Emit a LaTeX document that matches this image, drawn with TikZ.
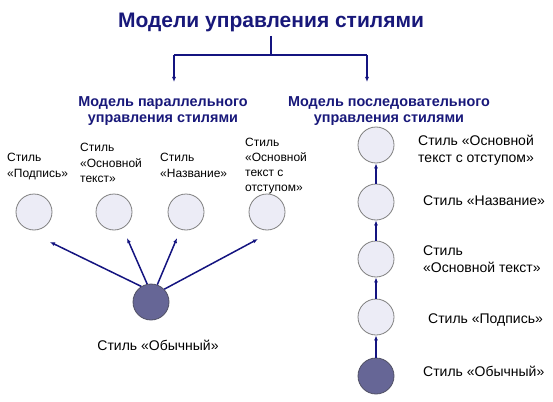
\documentclass[tikz,border=0pt]{standalone}
\usepackage{fontspec}
\setmainfont{Liberation Sans}
\usetikzlibrary{arrows.meta}
\definecolor{navy}{RGB}{24,24,122}
\definecolor{arrnavy}{RGB}{20,20,128}
\definecolor{lightfill}{RGB}{236,236,246}
\definecolor{circgray}{RGB}{128,128,128}
\definecolor{darkfill}{RGB}{102,102,150}
\definecolor{darkborder}{RGB}{80,80,100}
\begin{document}
\begin{tikzpicture}[x=1pt,y=-1pt,
  light/.style={circle,draw=circgray,fill=lightfill,minimum size=36pt,inner sep=0pt,line width=0.8pt},
  dark/.style={circle,draw=darkborder,fill=darkfill,minimum size=36pt,inner sep=0pt,line width=0.8pt},
  lbl/.style={font=\fontsize{12}{15.5}\selectfont,align=left,inner sep=0pt,anchor=north west},
  rlbl/.style={font=\fontsize{14}{16.5}\selectfont,align=left,inner sep=0pt,anchor=north west},
  head/.style={font=\bfseries\fontsize{14.4}{16.5}\selectfont,text=navy,align=center,inner sep=0pt,anchor=north},
  conn/.style={draw=arrnavy,line width=1.5pt},
  arr/.style={draw=arrnavy,line width=1.5pt,-{Latex[length=5pt,width=4pt]}}]
\useasboundingbox (0,0) rectangle (553,401);
% title
\node[font=\bfseries\fontsize{21}{24}\selectfont,text=navy,anchor=base] (title) at (271,28) {Модели управления стилями};
\coordinate (j) at (271,55);
\coordinate (jl) at (174,55);
\coordinate (jr) at (367,55);
\node[head] (h1) at (163,96) {Модель параллельного\\управления стилями};
\node[head] (h2) at (389,96) {Модель последовательного\\управления стилями};
\draw[conn] (title.south) -- (j);
\draw[conn] (jl) -- (jr);
\coordinate (a1) at (174,82);
\coordinate (a2) at (367,82);
\draw[arr] (jl) -- (a1);
\draw[arr] (jr) -- (a2);
% parallel model
\node[light] (c1) at (34,212) {};
\node[light] (c2) at (114,212) {};
\node[light] (c3) at (186,212) {};
\node[light] (c4) at (267,212) {};
\node[dark] (d) at (151,302) {};
\node[lbl] (l1) at (7,153) {Стиль\\«Подпись»};
\node[lbl] (l2) at (80,143) {Стиль\\«Основной\\текст»};
\node[lbl] (l3) at (160,153) {Стиль\\«Название»};
\node[lbl,font=\fontsize{12}{15}\selectfont] (l4) at (245,138) {Стиль\\«Основной\\текст с\\отступом»};
\node[rlbl,anchor=north] (ld) at (158,340) {Стиль «Обычный»};
\coordinate (t1) at (50,242);
\coordinate (t2) at (127,238);
\coordinate (t3) at (177,238);
\coordinate (t4) at (258,239);
\draw[arr] (d.122) -- (t1);
\draw[arr] (d.102) -- (t2);
\draw[arr] (d.70) -- (t3);
\draw[arr] (d.44) -- (t4);
% sequential model
\node[light] (r1) at (376,145) {};
\node[light] (r2) at (376,202) {};
\node[light] (r3) at (376,259) {};
\node[light] (r4) at (376,317) {};
\node[dark] (r5) at (376,376) {};
\draw[arr] (r5.north) -- (r4.south);
\draw[arr] (r4.north) -- (r3.south);
\draw[arr] (r3.north) -- (r2.south);
\draw[arr] (r2.north) -- (r1.south);
\node[rlbl] (q1) at (418,135) {Стиль «Основной\\текст с отступом»};
\node[rlbl] (q2) at (423,196) {Стиль «Название»};
\node[rlbl] (q3) at (423,246) {Стиль\\«Основной текст»};
\node[rlbl] (q4) at (428,314) {Стиль «Подпись»};
\node[rlbl] (q5) at (423,366) {Стиль «Обычный»};
\end{tikzpicture}
\end{document}
